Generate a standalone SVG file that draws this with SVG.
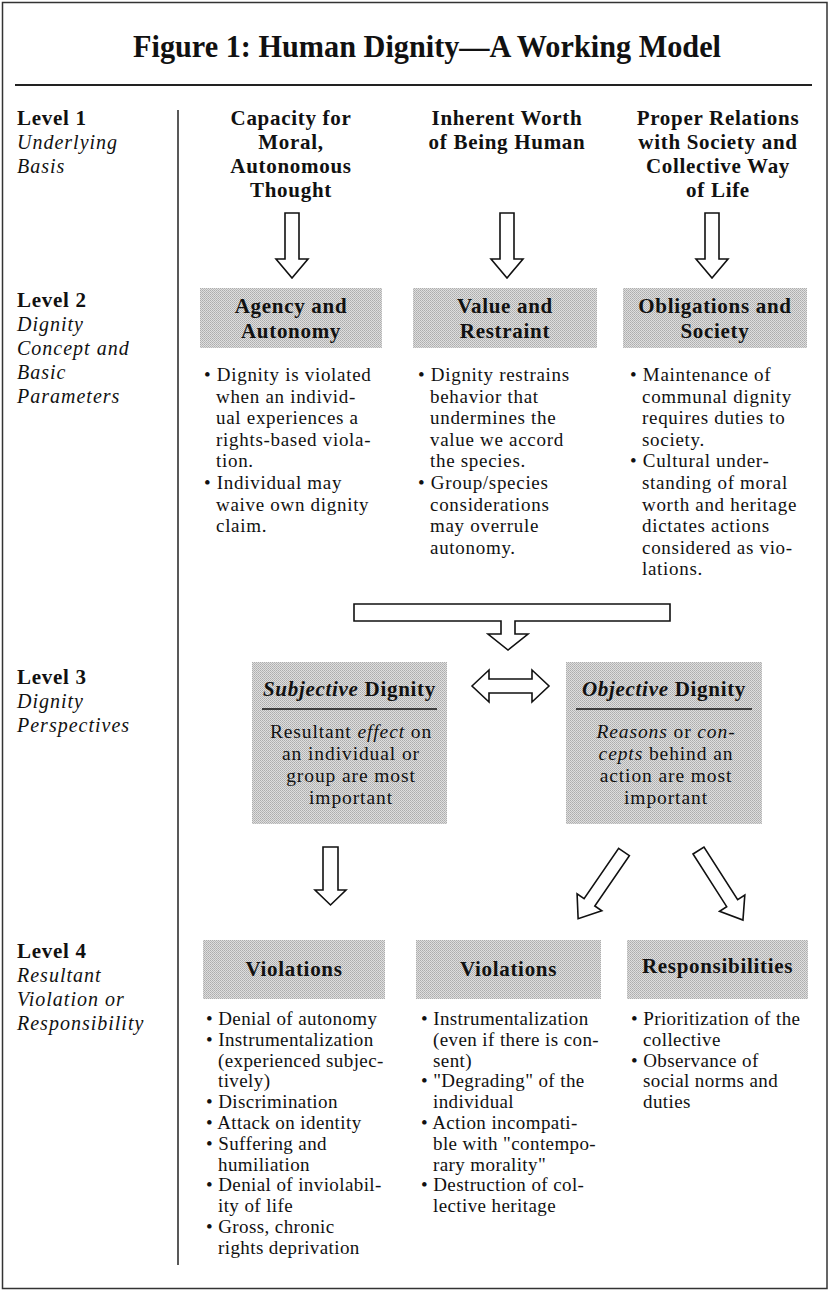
<svg xmlns="http://www.w3.org/2000/svg" width="830" height="1291" viewBox="0 0 830 1291">
<style>
text{font-family:"Liberation Serif","Times New Roman",serif;fill:#111}
.title{font-size:32px;font-weight:bold;text-anchor:middle}
.lv{font-size:21px;font-weight:bold;letter-spacing:0.7px}
.lvi{font-size:20px;font-style:italic;letter-spacing:1px}
.h{font-size:21px;font-weight:bold;letter-spacing:0.7px;text-anchor:middle}
.b{font-size:19px;letter-spacing:0.4px}
.b2{font-size:19px;letter-spacing:0.7px}
.c{font-size:19.5px;letter-spacing:0.9px;text-anchor:middle}
.i{font-style:italic}
.box{fill:url(#dots)}
.arr{fill:#fff;stroke:#111;stroke-width:1.6;stroke-linejoin:miter}
.rule{stroke:#111;stroke-width:1.6}
</style>
<defs>
<pattern id="dots" width="2" height="2" patternUnits="userSpaceOnUse">
<rect width="2" height="2" fill="#dedede"/>
<rect width="1" height="1" fill="#adadad"/>
<rect x="1" y="1" width="1" height="1" fill="#b8b8b8"/>
</pattern>
</defs>
<rect x="2.5" y="2.5" width="824.5" height="1286" fill="#fff" stroke="#333" stroke-width="1.5"/>
<g id="title">
<text class="title" x="427" y="57" textLength="588" lengthAdjust="spacingAndGlyphs">Figure 1: Human Dignity—A Working Model</text>
<line x1="15" y1="85" x2="812" y2="85" stroke="#222" stroke-width="2"/>
</g>
<line x1="178" y1="110" x2="178" y2="1265" stroke="#222" stroke-width="1.5"/>
<g id="levels">
<text class="lv" x="17" y="125">Level 1</text>
<text class="lvi" x="17" y="149">Underlying</text>
<text class="lvi" x="17" y="173">Basis</text>
<text class="lv" x="17" y="307">Level 2</text>
<text class="lvi" x="17" y="331">Dignity</text>
<text class="lvi" x="17" y="355">Concept and</text>
<text class="lvi" x="17" y="379">Basic</text>
<text class="lvi" x="17" y="403">Parameters</text>
<text class="lv" x="17" y="684">Level 3</text>
<text class="lvi" x="17" y="708">Dignity</text>
<text class="lvi" x="17" y="732">Perspectives</text>
<text class="lv" x="17" y="958">Level 4</text>
<text class="lvi" x="17" y="982">Resultant</text>
<text class="lvi" x="17" y="1006">Violation or</text>
<text class="lvi" x="17" y="1030">Responsibility</text>
</g>
<g id="basis1">
<text class="h" x="291" y="125">Capacity for</text>
<text class="h" x="291" y="149">Moral,</text>
<text class="h" x="291" y="173">Autonomous</text>
<text class="h" x="291" y="197">Thought</text>
</g>
<g id="basis2">
<text class="h" x="507" y="125">Inherent Worth</text>
<text class="h" x="507" y="149">of Being Human</text>
</g>
<g id="basis3">
<text class="h" x="718" y="125">Proper Relations</text>
<text class="h" x="718" y="149">with Society and</text>
<text class="h" x="718" y="173">Collective Way</text>
<text class="h" x="718" y="197">of Life</text>
</g>
<g id="agency">
<rect class="box" x="200" y="288" width="182" height="60"/>
<text class="h" x="291" y="313">Agency and</text>
<text class="h" x="291" y="338">Autonomy</text>
<text class="b2" x="204" y="381">• Dignity is violated</text>
<text class="b2" x="216" y="403">when an  individ-</text>
<text class="b2" x="216" y="424">ual experiences a</text>
<text class="b2" x="216" y="446">rights-based viola-</text>
<text class="b2" x="216" y="467">tion.</text>
<text class="b2" x="204" y="489">• Individual may</text>
<text class="b2" x="216" y="511">waive own dignity</text>
<text class="b2" x="216" y="532">claim.</text>
</g>
<g id="value">
<rect class="box" x="413" y="288" width="184" height="60"/>
<text class="h" x="505" y="313">Value and</text>
<text class="h" x="505" y="338">Restraint</text>
<text class="b2" x="418" y="381">• Dignity restrains</text>
<text class="b2" x="430" y="403">behavior that</text>
<text class="b2" x="430" y="424">undermines the</text>
<text class="b2" x="430" y="446">value we accord</text>
<text class="b2" x="430" y="467">the species.</text>
<text class="b2" x="418" y="489">• Group/species</text>
<text class="b2" x="430" y="511">considerations</text>
<text class="b2" x="430" y="532">may overrule</text>
<text class="b2" x="430" y="554">autonomy.</text>
</g>
<g id="obligations">
<rect class="box" x="623" y="288" width="184" height="60"/>
<text class="h" x="715" y="313">Obligations and</text>
<text class="h" x="715" y="338">Society</text>
<text class="b2" x="630" y="381">• Maintenance of</text>
<text class="b2" x="642" y="403">communal dignity</text>
<text class="b2" x="642" y="424">requires duties to</text>
<text class="b2" x="642" y="446">society.</text>
<text class="b2" x="630" y="467">• Cultural under-</text>
<text class="b2" x="642" y="489">standing of moral</text>
<text class="b2" x="642" y="511">worth and heritage</text>
<text class="b2" x="642" y="532">dictates actions</text>
<text class="b2" x="642" y="554">considered as vio-</text>
<text class="b2" x="642" y="575">lations.</text>
</g>
<g id="subjective">
<rect class="box" x="252" y="662" width="195" height="162"/>
<text class="h" x="349.5" y="696"><tspan class="i">Subjective</tspan> Dignity</text>
<line class="rule" x1="262" y1="709" x2="437" y2="709"/>
<text class="c" x="351" y="738">Resultant <tspan class="i">effect</tspan> on</text>
<text class="c" x="351" y="760">an individual or</text>
<text class="c" x="351" y="782">group are most</text>
<text class="c" x="351" y="804">important</text>
</g>
<g id="objective">
<rect class="box" x="566" y="662" width="196" height="162"/>
<text class="h" x="664" y="696"><tspan class="i">Objective</tspan> Dignity</text>
<line class="rule" x1="576" y1="709" x2="752" y2="709"/>
<text class="c" x="666" y="738"><tspan class="i">Reasons</tspan> or <tspan class="i">con-</tspan></text>
<text class="c" x="666" y="760"><tspan class="i">cepts</tspan> behind an</text>
<text class="c" x="666" y="782">action are most</text>
<text class="c" x="666" y="804">important</text>
</g>
<g id="violations1">
<rect class="box" x="203" y="940" width="182" height="59"/>
<text class="h" x="294" y="976">Violations</text>
<text class="b" x="206" y="1025">• Denial of autonomy</text>
<text class="b" x="206" y="1046">• Instrumentalization</text>
<text class="b" x="218" y="1067">(experienced subjec-</text>
<text class="b" x="218" y="1087">tively)</text>
<text class="b" x="206" y="1108">• Discrimination</text>
<text class="b" x="206" y="1129">• Attack on identity</text>
<text class="b" x="206" y="1150">• Suffering and</text>
<text class="b" x="218" y="1171">humiliation</text>
<text class="b" x="206" y="1191">• Denial of inviolabil-</text>
<text class="b" x="218" y="1212">ity of life</text>
<text class="b" x="206" y="1233">• Gross, chronic</text>
<text class="b" x="218" y="1254">rights deprivation</text>
</g>
<g id="violations2">
<rect class="box" x="416" y="940" width="185" height="59"/>
<text class="h" x="508.5" y="976">Violations</text>
<text class="b" x="421" y="1025">• Instrumentalization</text>
<text class="b" x="433" y="1046">(even if there is con-</text>
<text class="b" x="433" y="1067">sent)</text>
<text class="b" x="421" y="1087">• "Degrading" of the</text>
<text class="b" x="433" y="1108">individual</text>
<text class="b" x="421" y="1129">• Action incompati-</text>
<text class="b" x="433" y="1150">ble with "contempo-</text>
<text class="b" x="433" y="1171">rary morality"</text>
<text class="b" x="421" y="1191">• Destruction of col-</text>
<text class="b" x="433" y="1212">lective heritage</text>
</g>
<g id="responsibilities">
<rect class="box" x="627" y="940" width="181" height="59"/>
<text class="h" x="717.5" y="973">Responsibilities</text>
<text class="b" x="631" y="1025">• Prioritization of the</text>
<text class="b" x="643" y="1046">collective</text>
<text class="b" x="631" y="1067">• Observance of</text>
<text class="b" x="643" y="1087">social norms and</text>
<text class="b" x="643" y="1108">duties</text>
</g>
<g id="connectors">
<path class="arr" d="M285,213 H299 V259 H308 L292,278 L276,259 H285 Z"/>
<path class="arr" d="M500,213 H514 V259 H523 L507,278 L491,259 H500 Z"/>
<path class="arr" d="M705,213 H719 V259 H728 L712,278 L696,259 H705 Z"/>
<path class="arr" d="M354,604 H670 V621 H515 V634 H528 L508,650 L488,634 H501 V621 H354 Z"/>
<path class="arr" d="M472,686 L489,670 V679 H532 V670 L549,686 L532,702 V693 H489 V702 Z"/>
<path class="arr" d="M323,847 H338 V890 H346 L330.5,905 L315,890 H323 Z"/>
<path class="arr" transform="translate(624,852) rotate(34.5)" d="M-6.5,0 H6.5 V61 H15 L0,81 L-15,61 H-6.5 Z"/>
<path class="arr" transform="translate(698.5,850.5) rotate(-32.6)" d="M-6.5,0 H6.5 V62.5 H15 L0,82.5 L-15,62.5 H-6.5 Z"/>
</g>
</svg>
